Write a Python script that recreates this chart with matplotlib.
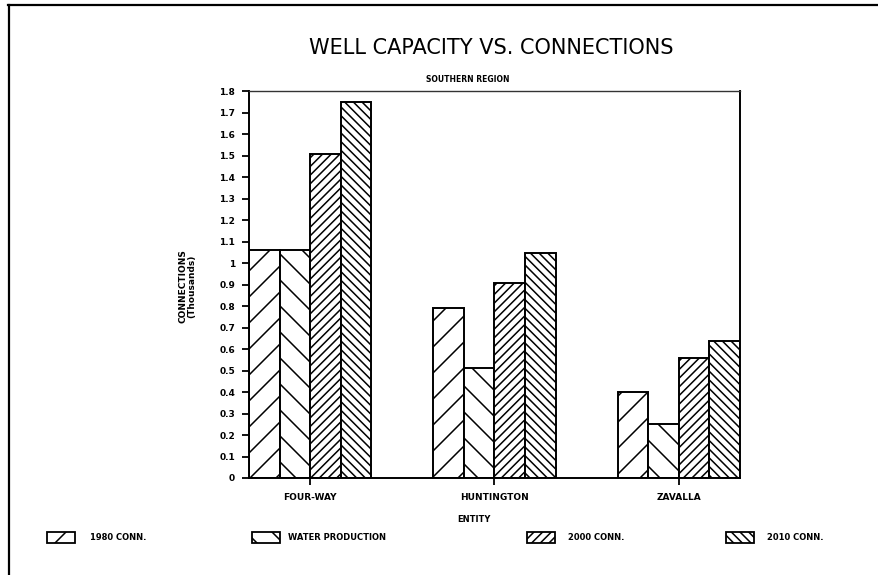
import matplotlib
matplotlib.use("Agg")
import matplotlib.pyplot as plt
import matplotlib.patches as mpatches
from matplotlib.lines import Line2D
from matplotlib.ticker import FuncFormatter, MultipleLocator
import numpy as np

# data (thousands of connections)
entities = ['FOUR-WAY', 'HUNTINGTON', 'ZAVALLA']
series_names = ['1980 CONN.', 'WATER PRODUCTION', '2000 CONN.', '2010 CONN.']
conn_1980 = [1.06, 0.79, 0.40]
water_prod = [1.06, 0.51, 0.25]
conn_2000 = [1.51, 0.91, 0.56]
conn_2010 = [1.75, 1.05, 0.64]
hatches = ['/', '\\', '///', '\\\\\\']

# lower dpi so the hatch spacing matches the scanned original
DPI = 78
S = 100 / DPI  # keep sizes as if drawn at 100 dpi

plt.rcParams['hatch.linewidth'] = 1.1 * S
plt.rcParams['font.family'] = 'DejaVu Sans'

fig = plt.figure(figsize=(878 / DPI, 575 / DPI), dpi=DPI)
ax = fig.add_axes([0.2836, 0.1687, 0.5592, 0.6722])

x = np.arange(len(entities))
width = 0.166
all_series = [conn_1980, water_prod, conn_2000, conn_2010]
for i, vals in enumerate(all_series):
    offs = (i - 1.5) * width
    ax.bar(x + offs, vals, width, color='white', edgecolor='black',
           linewidth=1.4 * S, hatch=hatches[i], label=series_names[i])

ax.set_xlim(-2 * width, 2 + 2 * width)
ax.set_ylim(0, 1.8)
ax.yaxis.set_major_locator(MultipleLocator(0.1))
ax.yaxis.set_major_formatter(FuncFormatter(lambda v, p: '%g' % round(v, 1)))
ax.set_xticks(x)
ax.set_xticklabels(entities)
ax.tick_params(axis='both', direction='out', length=5 * S, width=1.3 * S,
               labelsize=6.5 * S)
ax.tick_params(axis='y', pad=5 * S)
ax.tick_params(axis='x', pad=6 * S)
for lab in ax.get_xticklabels() + ax.get_yticklabels():
    lab.set_fontweight('bold')

for side in ['left', 'bottom', 'right']:
    ax.spines[side].set_linewidth(1.4 * S)
ax.spines['top'].set_linewidth(1.0 * S)
ax.spines['top'].set_color('#333333')

# texts
fig.text(491 / 878, 1 - 48 / 575, 'WELL CAPACITY VS. CONNECTIONS', ha='center',
         va='center', fontsize=15 * S)
fig.text(468 / 878, 1 - 79 / 575, 'SOUTHERN REGION', ha='center', va='center',
         fontsize=5.5 * S, fontweight='bold')
fig.text(187 / 878, 1 - 286 / 575, 'CONNECTIONS\n(Thousands)', ha='center',
         va='center', rotation=90, fontsize=6.5 * S, fontweight='bold',
         linespacing=1.0)
fig.text(474 / 878, 1 - 520 / 575, 'ENTITY', ha='center', va='center',
         fontsize=6 * S, fontweight='bold')

# legend along the bottom
box_x = [47, 252, 527, 726]
text_x = [90, 288, 568, 767]
for i in range(4):
    r = mpatches.Rectangle((box_x[i] / 878, 1 - 543 / 575), 28 / 878, 11 / 575,
                           transform=fig.transFigure, facecolor='white',
                           edgecolor='black', linewidth=1.3 * S, hatch=hatches[i])
    fig.add_artist(r)
    fig.text(text_x[i] / 878, 1 - 537 / 575, series_names[i], ha='left',
             va='center', fontsize=6 * S, fontweight='bold')

# outer frame
fig.add_artist(Line2D([8 / 878, 1], [1 - 5 / 575, 1 - 5 / 575],
                      transform=fig.transFigure, color='black', linewidth=1.6 * S))
fig.add_artist(Line2D([9 / 878, 9 / 878], [0, 1 - 5 / 575],
                      transform=fig.transFigure, color='black', linewidth=1.6 * S))

fig.savefig('out.png', dpi=DPI)
